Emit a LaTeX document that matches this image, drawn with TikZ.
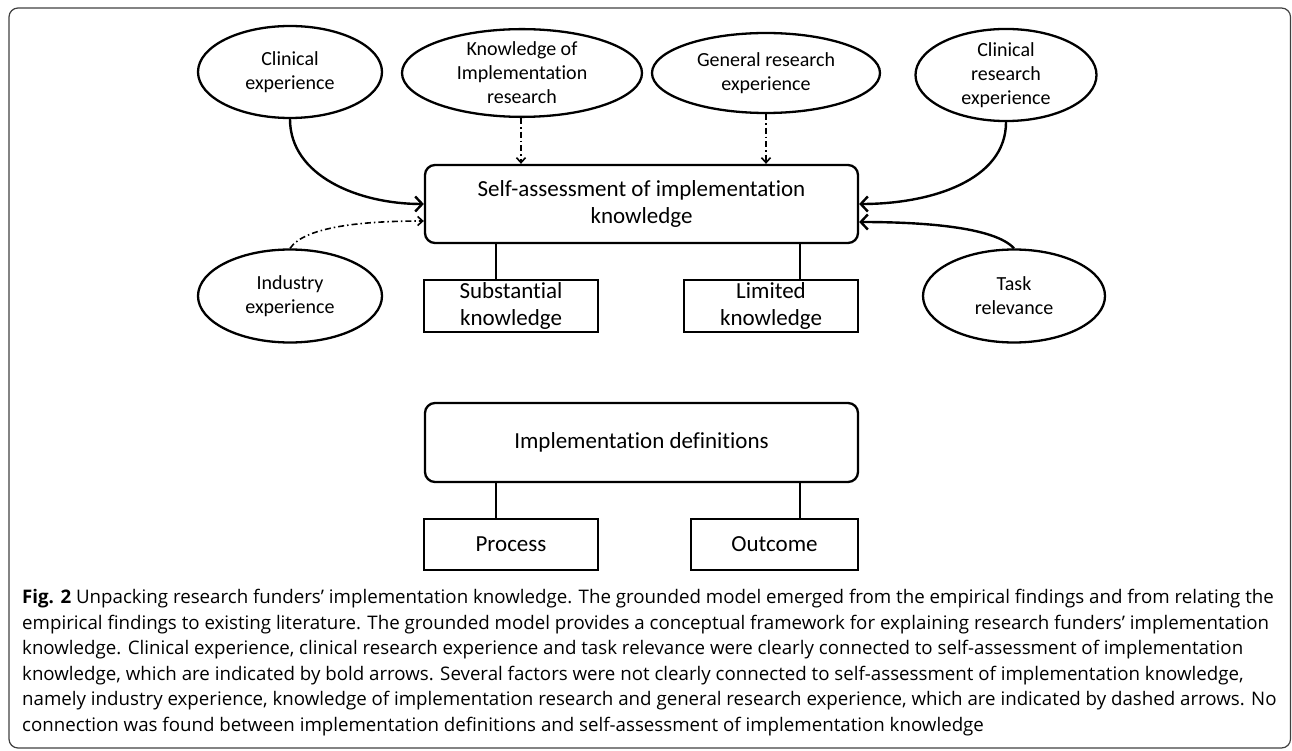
\documentclass[tikz,border=0pt]{standalone}
\usepackage{fontspec}
\setmainfont[Ligatures=NoCommon]{Carlito}
\newfontfamily\capfont{Open Sans}
\usetikzlibrary{shapes.geometric,arrows.meta}
\begin{document}
\begin{tikzpicture}[x=1pt,y=-1pt,
  oval/.style={ellipse, draw, line width=2.3pt, inner sep=0pt, align=center, font=\fontsize{20}{24}\selectfont},
  rbox/.style={rectangle, rounded corners=10pt, draw, line width=2.3pt, inner sep=0pt, align=center, font=\fontsize{23}{27}\selectfont},
  sbox/.style={rectangle, draw, line width=2.3pt, inner sep=0pt, align=center, font=\fontsize{23}{27.5}\selectfont},
  strong/.style={line width=2.4pt, -{Straight Barb[length=7pt,width=15pt]}},
  weak/.style={line width=1.6pt, dash pattern=on 6pt off 3pt on 1.5pt off 3pt, -{Straight Barb[length=5pt,width=9pt]}},
  link/.style={line width=1.8pt},
  frame/.style={line width=1.2pt, draw=black!75, rounded corners=9pt}
]
\useasboundingbox (0,0) rectangle (1292,751);
\draw[frame] (9,8) rectangle (1290.5,748);

% ellipses
\node[oval, minimum width=184pt, minimum height=92pt] (ce) at (290,72) {Clinical\\experience};
\node[oval, minimum width=240pt, minimum height=80pt] (kir) at (522,73) {Knowledge of\\Implementation\\research};
\node[oval, minimum width=228pt, minimum height=80pt] (gre) at (766,73) {General research\\experience};
\node[oval, minimum width=181pt, minimum height=84pt] (cre) at (1006,75) {Clinical\\research\\experience};
\node[oval, minimum width=184pt, minimum height=93pt] (ie) at (290,296) {Industry\\experience};
\node[oval, minimum width=182pt, minimum height=93pt] (tr) at (1014,296) {Task\\relevance};

% boxes
\node[rbox, minimum width=433pt, minimum height=78pt] (sa) at (641.5,204) {Self-assessment of implementation\\knowledge};
\node[sbox, minimum width=174pt, minimum height=52pt] (sk) at (511,306) {Substantial\\knowledge};
\node[sbox, minimum width=174pt, minimum height=52pt] (lk) at (771,306) {Limited\\knowledge};
\node[rbox, minimum width=433pt, minimum height=79pt] (id) at (641.5,442.5) {Implementation definitions};
\node[sbox, minimum width=174pt, minimum height=51pt] (pr) at (511,544.5) {Process};
\node[sbox, minimum width=167pt, minimum height=51pt] (oc) at (774.5,544.5) {Outcome};

% links
\draw[link] ([xshift=-15pt]sk.north) -- ([xshift=-15pt]sk.north |- sa.south);
\draw[link] ([xshift=29pt]lk.north) -- ([xshift=29pt]lk.north |- sa.south);
\draw[link] ([xshift=-15pt]pr.north) -- ([xshift=-15pt]pr.north |- id.south);
\draw[link] ([xshift=25.5pt]oc.north) -- ([xshift=25.5pt]oc.north |- id.south);

% arrows
\draw[strong] (ce.south) .. controls +(0,57) and +(-65,0) .. (sa.west);
\draw[strong] (cre.south) .. controls +(0,58) and +(72,0) .. (sa.east);
\draw[strong] (tr.north) .. controls +(-20,-22) and +(60,0) .. ([yshift=-18pt]sa.east);
\draw[weak] (ie.north) .. controls +(15,-22) and +(-60,0) .. ([yshift=-17pt]sa.west);
\draw[weak] ([xshift=-1pt]kir.south) -- ([xshift=-1pt]kir.south |- sa.north);
\draw[weak] (gre.south) -- (gre.south |- sa.north);

% caption
\node[anchor=north west, align=left, inner sep=0pt, font=\capfont\fontsize{18.7}{25.5}\selectfont] (cap) at (22,589) {%
{\bfseries Fig. 2} Unpacking research funders’ implementation knowledge. The grounded model emerged from the empirical findings and from relating the\\
empirical findings to existing literature. The grounded model provides a conceptual framework for explaining research funders’ implementation\\
knowledge. Clinical experience, clinical research experience and task relevance were clearly connected to self-assessment of implementation\\
knowledge, which are indicated by bold arrows. Several factors were not clearly connected to self-assessment of implementation knowledge,\\
namely industry experience, knowledge of implementation research and general research experience, which are indicated by dashed arrows. No\\
connection was found between implementation definitions and self-assessment of implementation knowledge};
\end{tikzpicture}
\end{document}
